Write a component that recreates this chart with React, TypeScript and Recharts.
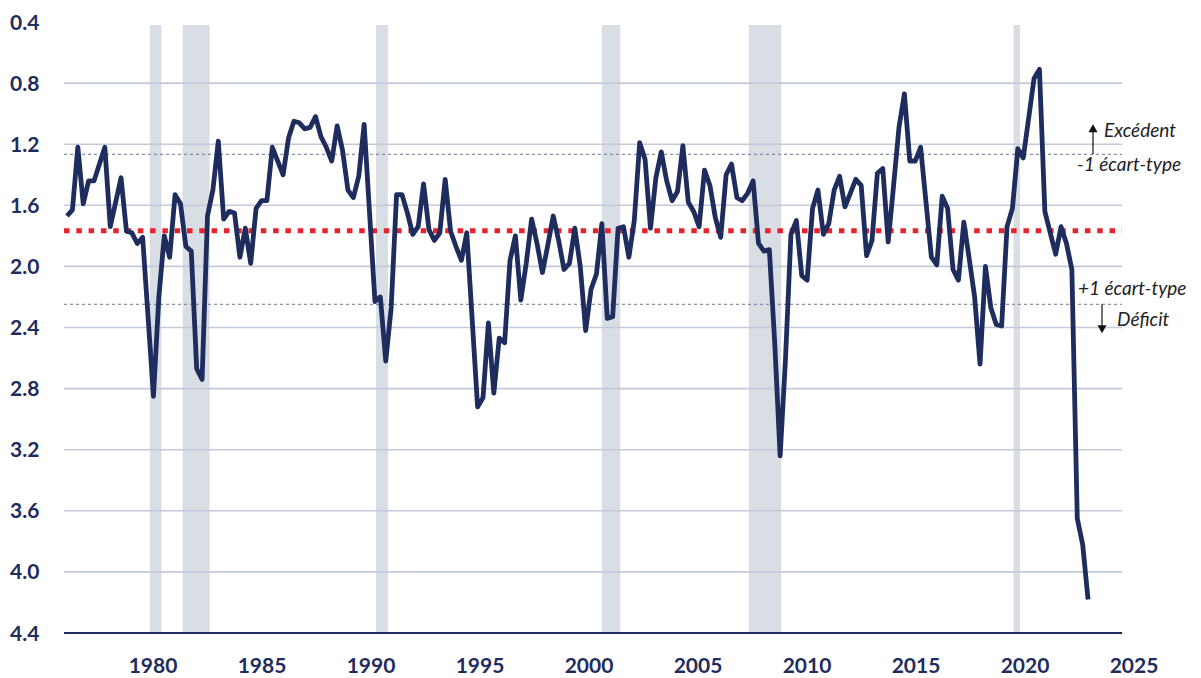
import React from "react";
import {
  LineChart,
  Line,
  XAxis,
  YAxis,
  ReferenceArea,
  ReferenceLine,
} from "recharts";

// quarterly readings, first point = 1976 Q1
const START_YEAR = 1976.25;
const values1976 = [
  1.67, 1.63, 1.22, 1.59, 1.44, 1.44, 1.33, 1.22, 1.74, 1.58, 1.42, 1.77, 1.78, 1.85, 1.81,
  2.33, 2.85, 2.2, 1.8, 1.94, 1.53, 1.59, 1.87, 1.9, 2.67, 2.74, 1.67, 1.5, 1.18, 1.69, 1.64,
];
const values1984 = [
  1.65, 1.94, 1.75, 1.98, 1.62, 1.57, 1.57, 1.22, 1.31, 1.4, 1.16, 1.05, 1.06, 1.1, 1.09, 1.02,
  1.15, 1.22, 1.31, 1.08, 1.24, 1.5, 1.55, 1.41, 1.07, 1.65, 2.23, 2.2, 2.62, 2.27, 1.53, 1.53,
];
const values1992 = [
  1.65, 1.79, 1.74, 1.46, 1.76, 1.83, 1.78, 1.43, 1.77, 1.87, 1.96, 1.78, 2.35, 2.92, 2.86, 2.37,
  2.83, 2.47, 2.5, 1.96, 1.8, 2.22, 1.98, 1.69, 1.85, 2.04, 1.86, 1.67, 1.83, 2.02, 1.98, 1.75,
];
const values2000 = [
  2.0, 2.42, 2.15, 2.05, 1.72, 2.34, 2.33, 1.75, 1.74, 1.94, 1.7, 1.19, 1.3, 1.75, 1.42, 1.25,
  1.44, 1.57, 1.51, 1.21, 1.58, 1.64, 1.74, 1.37, 1.47, 1.68, 1.81, 1.4, 1.33, 1.55, 1.57,
];
const values2008 = [
  1.52, 1.44, 1.85, 1.9, 1.89, 2.5, 3.24, 2.6, 1.79, 1.7, 2.06, 2.09, 1.62, 1.5, 1.79, 1.72,
  1.5, 1.41, 1.61, 1.52, 1.43, 1.47, 1.93, 1.83, 1.39, 1.36, 1.84, 1.47, 1.09, 0.87, 1.31,
];
const values2015 = [
  1.31, 1.22, 1.58, 1.94, 1.99, 1.54, 1.62, 2.02, 2.09, 1.71, 1.95, 2.2, 2.64, 2.0, 2.27, 2.38,
  2.39, 1.74, 1.62, 1.23, 1.29, 1.03, 0.77, 0.71, 1.64, 1.78, 1.92, 1.74, 1.85, 2.02, 3.65, 3.82,
  4.18,
];

const yearTicks = [1980, 1985, 1990, 1995, 2000, 2005, 2010, 2015, 2020, 2025];
const valueTicks = [0.4, 0.8, 1.2, 1.6, 2.0, 2.4, 2.8, 3.2, 3.6, 4.0, 4.4];
const gridValues = [0.8, 1.2, 1.6, 2.0, 2.4, 2.8, 3.2, 3.6, 4.0];

// recessions, as [start, end] in decimal years
const recessions = [
  [1980.08, 1980.62],
  [1981.6, 1982.85],
  [1990.55, 1991.1],
  [2001.0, 2001.85],
  [2007.8, 2009.3],
  [2020.05, 2020.35],
];

const MEAN = 1.766;
const MINUS_ONE_SD = 1.266;
const PLUS_ONE_SD = 2.248;

const data = [values1976, values1984, values1992, values2000, values2008, values2015]
  .flat()
  .map((v, i) => ({ t: START_YEAR + i * 0.25, v }));

const NAVY = "#1f2c5e";
const FONT = "Lato, 'Open Sans', sans-serif";

function YearTick({ x, y, payload }: any) {
  const shift = 5 + (payload.value - 1980) * 0.19;
  return (
    <text x={x + shift} y={y + 38} textAnchor="middle" fill={NAVY} fontSize={21} fontWeight={700} fontFamily={FONT}>
      {payload.value}
    </text>
  );
}

function ValueTick({ y, payload }: any) {
  return (
    <text x={10} y={y + 7.5} textAnchor="start" fill={NAVY} fontSize={21} fontWeight={700} fontFamily={FONT}>
      {payload.value.toFixed(1)}
    </text>
  );
}

function UpperNote({ viewBox }: any) {
  const right = viewBox.x + viewBox.width;
  const y = viewBox.y;
  return (
    <g fontFamily={FONT} fontStyle="italic" fontSize={19} fill="#222">
      <line x1={right - 29} x2={right - 29} y1={y} y2={y - 24} stroke="#111" strokeWidth={1.2} />
      <path d={`M${right - 33.5},${y - 22} L${right - 29},${y - 30} L${right - 24.5},${y - 22} Z`} fill="#111" />
      <text x={right - 18} y={y - 17}>Excédent</text>
      <text x={right - 45} y={y + 17}>-1 écart-type</text>
    </g>
  );
}

function LowerNote({ viewBox }: any) {
  const right = viewBox.x + viewBox.width;
  const y = viewBox.y;
  return (
    <g fontFamily={FONT} fontStyle="italic" fontSize={19} fill="#222">
      <text x={right - 44} y={y - 9}>+1 écart-type</text>
      <line x1={right - 20} x2={right - 20} y1={y} y2={y + 22} stroke="#111" strokeWidth={1.2} />
      <path d={`M${right - 24.5},${y + 21} L${right - 20},${y + 29} L${right - 15.5},${y + 21} Z`} fill="#111" />
      <text x={right - 5} y={y + 22}>Déficit</text>
    </g>
  );
}

export default function App() {
  return (
    <div style={{ position: "absolute", left: 0, top: 0, width: 1201, height: 678, background: "#fff" }}>
      <LineChart width={1201} height={678} data={data} margin={{ top: 22, right: 79, left: 0, bottom: 0 }}>
        {recessions.map(([a, b]) => (
          <ReferenceArea key={a} x1={a} x2={b} y1={0.42} y2={4.4} fill="#d9dde4" fillOpacity={1} stroke="none" />
        ))}
        {gridValues.map((g) => (
          <ReferenceLine key={g} y={g} stroke="#c3c9db" strokeWidth={1.6} />
        ))}
        <XAxis
          type="number"
          dataKey="t"
          domain={[1976.11, 2025.07]}
          ticks={yearTicks}
          interval={0}
          allowDataOverflow
          height={45}
          tickLine={false}
          tickSize={0}
          axisLine={{ stroke: NAVY, strokeWidth: 2 }}
          tick={<YearTick />}
        />
        <YAxis
          type="number"
          domain={[0.4, 4.4]}
          ticks={valueTicks}
          reversed
          interval={0}
          width={64}
          axisLine={false}
          tickLine={false}
          tick={<ValueTick />}
        />
        <ReferenceLine y={MINUS_ONE_SD} stroke="#6e7490" strokeWidth={1} strokeDasharray="3 3" label={<UpperNote />} />
        <ReferenceLine y={PLUS_ONE_SD} stroke="#6e7490" strokeWidth={1} strokeDasharray="3 3" label={<LowerNote />} />
        <ReferenceLine y={MEAN} stroke="#e8222b" strokeWidth={5} strokeDasharray="5.5 6.8" />
        <Line
          type="linear"
          dataKey="v"
          stroke={NAVY}
          strokeWidth={4.8}
          dot={false}
          isAnimationActive={false}
          strokeLinejoin="round"
        />
      </LineChart>
    </div>
  );
}
